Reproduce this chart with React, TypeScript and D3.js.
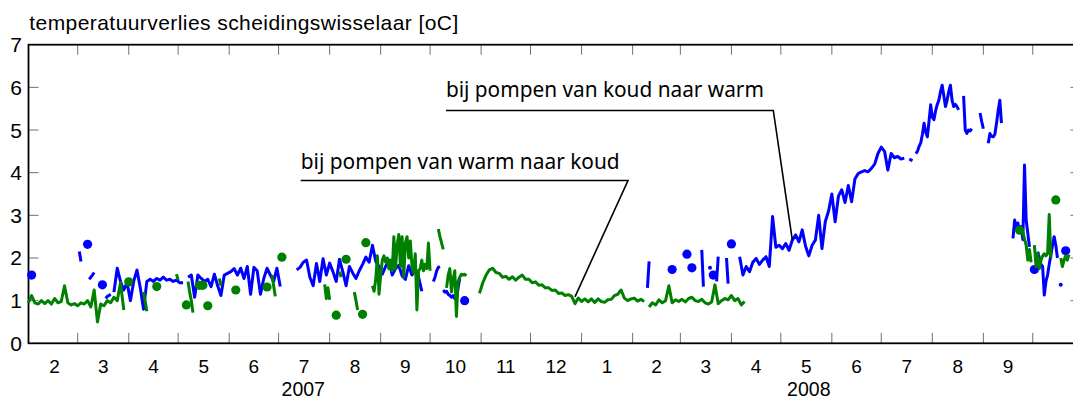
import React from "react";
import * as d3 from "d3";

// ---------- data ----------
const TITLE = "temperatuurverlies scheidingswisselaar [oC]";
const Y_TICKS = [0, 1, 2, 3, 4, 5, 6, 7];
const DOMAIN_START = "2007-01-30";
const DOMAIN_END = "2008-10-30";
const MONTH_LABEL_FIRST = "2007-02-01";
const MONTH_LABEL_LAST = "2008-09-01";
const YEAR_LABELS: [string, string][] = [
  ["2007-07-16", "2007"],
  ["2008-05-18", "2008"],
];

type Segment = { start: string; step: number; values: number[] };

// "bij pompen van koud naar warm"
const BLUE_SEGMENTS: Segment[] = [
  { start: "2007-03-02", step: 1, values: [2.15, 1.92] },
  { start: "2007-03-08", step: 1, values: [1.5, 1.55, 1.6, 1.66] },
  { start: "2007-03-18", step: 1, values: [1.05, 1.1, 1.12, 1.15] },
  { start: "2007-03-23", step: 2, values: [1.2, 1.76, 1.45, 1.25, 1.42, 1.0, 1.45, 1.72, 1.3, 0.8, 1.45, 1.5, 1.45, 1.52, 1.48, 1.55, 1.48, 1.5, 1.45, 1.48, 1.42, 1.42] },
  { start: "2007-05-07", step: 2, values: [1.55, 1.6, 1.08, 1.6, 1.52, 1.45, 1.5, 1.33, 1.62, 1.35, 1.12, 1.6, 1.64, 1.68, 1.75, 1.6, 1.76, 1.52, 1.8, 1.15, 1.78, 1.7, 1.15, 1.52, 1.76, 1.6, 1.45, 1.76, 1.33] },
  { start: "2007-07-12", step: 2, values: [1.72, 1.78, 1.9, 1.95, 1.55, 1.35, 1.87, 1.45, 1.98, 1.6, 1.88, 1.68, 1.45, 1.97, 1.68, 1.35, 1.8, 1.65, 1.52, 1.7, 1.85, 2.02, 1.9, 2.3, 1.92, 1.8, 1.62, 1.8, 1.95, 1.6, 1.75, 1.83, 1.58, 1.5, 1.82, 1.6, 1.72, 1.55, 1.22] },
  { start: "2007-10-03", step: 1, values: [1.45, 1.55, 1.7, 1.78, 1.8] },
  { start: "2007-10-09", step: 1, values: [1.25, 1.2, 1.22, 1.15, 1.12, 1.08, 1.12, 1.05, 1.02, 1.3, 1.52] },
  { start: "2008-02-10", step: 1, values: [1.3, 1.92] },
  { start: "2008-03-14", step: 1, values: [2.19, 1.33] },
  { start: "2008-03-23", step: 1, values: [1.45, 2.03] },
  { start: "2008-03-29", step: 1, values: [2.0, 1.4] },
  { start: "2008-04-06", step: 2, values: [2.03, 1.6, 1.8, 1.68, 1.9, 1.99, 1.85, 1.95, 2.03, 1.8, 2.97, 2.25, 2.3, 2.22, 2.34, 2.18, 2.42, 2.54, 2.38, 2.66, 2.28, 2.05, 2.3, 2.42, 3.0, 2.22, 2.85, 3.1, 3.5, 2.85, 3.45, 3.6, 3.3, 3.7, 3.32, 3.85, 3.98, 4.02, 4.05, 4.02, 4.1, 4.2, 4.45, 4.6, 4.5, 4.06, 4.45, 4.35, 4.38, 4.32, 4.34] },
  { start: "2008-07-18", step: 1, values: [4.32, 4.3, 4.28] },
  { start: "2008-07-22", step: 1, values: [4.45, 4.5, 4.62, 4.7, 4.9, 5.16, 4.95, 4.84, 5.2, 5.59, 5.3, 5.24, 5.45, 5.6, 5.7, 5.9, 6.05, 5.8, 5.55, 5.7, 5.9, 6.05, 5.7, 5.55, 5.6, 5.55, 5.47] },
  { start: "2008-08-20", step: 1, values: [5.8, 5.0, 4.92, 5.0, 4.98, 5.03] },
  { start: "2008-08-30", step: 1, values: [5.4, 5.2, 5.03] },
  { start: "2008-09-04", step: 1, values: [4.69, 4.92, 4.85, 4.84, 4.9, 5.16, 5.45, 5.7, 5.16] },
  { start: "2008-09-19", step: 1, values: [2.46, 2.89, 2.7, 2.82, 2.6, 2.74, 2.43, 4.18, 2.89, 2.58, 2.26] },
  { start: "2008-10-04", step: 1, values: [2.15, 2.0, 1.85, 1.8, 1.13, 1.45, 1.6, 1.85, 2.07, 2.3, 2.5, 2.3, 2.0] },
];
const BLUE_DOTS: [string, number][] = [
  ["2007-02-01", 1.6], ["2007-03-07", 2.32], ["2007-03-16", 1.37], ["2007-10-22", 1.0],
  ["2008-02-25", 1.73], ["2008-03-05", 2.09], ["2008-03-08", 1.77], ["2008-03-21", 1.6],
  ["2008-04-01", 2.33], ["2008-10-02", 1.73], ["2008-10-21", 2.17],
];
const BLUE_SMALL_DOTS: [string, number][] = [["2008-03-19", 1.77], ["2008-10-18", 1.37]];

// "bij pompen van warm naar koud"
const GREEN_SEGMENTS: Segment[] = [
  { start: "2007-01-30", step: 2, values: [0.95, 1.12, 0.95, 0.92, 1.0, 0.93, 1.0, 0.92, 1.05, 0.95, 0.98, 1.35, 0.95, 0.9, 0.93, 0.88, 0.95, 0.92, 1.0, 0.85, 1.25, 0.5, 0.92, 0.88, 1.0, 0.95, 1.08, 1.0, 1.42, 0.78] },
  { start: "2007-04-10", step: 2, values: [1.2, 0.75] },
  { start: "2007-04-30", step: 1, values: [1.62, 1.48] },
  { start: "2007-05-07", step: 1, values: [1.45, 1.2, 1.0, 0.72] },
  { start: "2007-05-26", step: 1, values: [1.52, 1.35] },
  { start: "2007-06-27", step: 1, values: [1.6, 1.35, 1.1] },
  { start: "2007-07-29", step: 1, values: [1.38, 1.05, 1.3, 1.02] },
  { start: "2007-08-07", step: 1, values: [1.68, 1.55] },
  { start: "2007-08-16", step: 1, values: [1.2, 1.0, 0.78] },
  { start: "2007-08-27", step: 1, values: [1.35, 1.22, 1.5, 2.05, 1.15, 1.6, 1.95, 2.05, 1.9, 2.0, 1.75, 1.95, 1.7, 2.5, 1.75, 2.3, 2.55, 1.8, 2.5, 1.55, 2.35, 2.5, 2.0, 2.4, 1.8, 1.65, 2.1, 0.78, 1.7, 1.75, 1.95, 1.7, 1.85, 1.75, 2.35, 1.7] },
  { start: "2007-10-06", step: 1, values: [2.68, 2.5, 2.35, 2.2] },
  { start: "2007-10-11", step: 1, values: [1.3, 1.6, 1.75, 1.2, 1.5, 1.7, 0.63, 1.45, 1.55, 1.62, 1.6, 1.62, 1.58] },
  { start: "2007-10-31", step: 2, values: [1.17, 1.42, 1.6, 1.72, 1.76, 1.66, 1.64, 1.55, 1.57, 1.5, 1.56, 1.48, 1.55, 1.6, 1.5, 1.5, 1.42, 1.44, 1.36, 1.37, 1.3, 1.3, 1.24, 1.25, 1.17, 1.18, 1.12, 1.14, 1.1, 0.93, 1.06, 0.98, 1.04, 0.97, 1.04, 0.96, 1.04, 0.98, 0.96, 1.02, 1.03, 1.12, 1.15, 1.25, 1.06, 1.0, 1.04, 1.06, 0.99, 1.03, 0.98] },
  { start: "2008-02-11", step: 2, values: [0.85, 0.95, 0.9, 1.02, 0.95, 1.0, 1.35, 0.95, 1.02, 0.98, 1.03, 0.97, 1.05, 1.08, 1.0, 0.98, 1.03, 0.95, 0.92, 0.97, 1.37, 0.93, 1.0, 1.05, 1.02, 1.12, 1.0, 1.05, 0.9, 0.98] },
  { start: "2008-09-23", step: 1, values: [2.65, 2.63, 2.6, 2.45, 2.3, 1.95, 2.2, 1.9] },
  { start: "2008-10-02", step: 1, values: [2.3, 1.8, 2.1, 1.75, 1.95, 2.05, 2.1, 2.05, 2.1, 3.02, 2.0] },
  { start: "2008-10-18", step: 1, values: [2.0, 1.8, 1.95, 2.05, 1.95, 2.08] },
];
const GREEN_DOTS: [string, number][] = [
  ["2007-04-01", 1.44], ["2007-04-18", 1.33], ["2007-05-06", 0.9], ["2007-05-14", 1.36],
  ["2007-05-16", 1.36], ["2007-05-19", 0.88], ["2007-06-05", 1.25], ["2007-06-24", 1.32],
  ["2007-07-03", 2.02], ["2007-08-05", 0.66], ["2007-08-11", 1.97], ["2007-08-21", 0.68],
  ["2007-08-23", 2.36], ["2008-09-23", 2.65], ["2008-10-15", 3.36],
];

const ANNOTATIONS = [
  { text: "bij pompen van warm naar koud", target: ["2007-12-28", 1.09] as [string, number] },
  { text: "bij pompen van koud naar warm", target: ["2008-05-08", 2.42] as [string, number] },
];

// ---------- layout ----------
const W = 1073;
const H = 401;
const PLOT = { left: 28.5, right: 1080.5, top: 44.7, bottom: 343.3 };
const ANN_LAYOUT = [
  { x: 300.7, baseline: 168.5, width: 319, lineY: 180.5, elbowX: 628 },
  { x: 445.9, baseline: 96.5, width: 318, lineY: 110.5, elbowX: 773.3 },
];
const BLUE = "#0000ff";
const GREEN = "#008000";
const FONT = "'Liberation Sans', Arial, sans-serif";

const parse = d3.utcParse("%Y-%m-%d");

export default function App() {
  const x = d3
    .scaleUtc()
    .domain([parse(DOMAIN_START)!, parse(DOMAIN_END)!])
    .range([28.3, PLOT.right]);
  const y = d3.scaleLinear().domain([0, 7]).range([PLOT.bottom, PLOT.top]);

  const line = d3
    .line<{ date: Date; value: number }>()
    .x((d) => x(d.date))
    .y((d) => y(d.value));

  const expand = (s: Segment) => {
    const st = parse(s.start)!;
    return s.values.map((v, i) => ({ date: d3.utcDay.offset(st, i * s.step), value: v }));
  };

  const d0 = parse(DOMAIN_START)!;
  const monthTicks = d3.utcMonth
    .range(d0, parse(DOMAIN_END)!)
    .filter((m) => x(m) > PLOT.left + 5);
  const labelMonths = d3.utcMonth.range(
    parse(MONTH_LABEL_FIRST)!,
    d3.utcMonth.offset(parse(MONTH_LABEL_LAST)!, 1)
  );

  const inner = Y_TICKS.filter((t) => t > 0 && t < 7);

  return (
    <svg
      width={W}
      height={H}
      style={{ position: "absolute", left: 0, top: 0, background: "#fff" }}
      fontFamily={FONT}
    >
      <rect x={0} y={0} width={W} height={H} fill="#fff" />
      {/* title */}
      <text x={29.3} y={30} fontSize={21} textLength={429} lengthAdjust="spacing" fill="#000">
        {TITLE}
      </text>

      {/* ticks */}
      <g stroke="#707070" strokeWidth={1}>
        {monthTicks.map((m, i) => (
          <g key={i}>
            <line x1={x(m)} x2={x(m)} y1={PLOT.bottom} y2={PLOT.bottom - 10.5} />
            <line x1={x(m)} x2={x(m)} y1={PLOT.top} y2={PLOT.top + 10} />
          </g>
        ))}
        {inner.map((t) => (
          <g key={t}>
            <line x1={PLOT.left} x2={PLOT.left + 10} y1={y(t)} y2={y(t)} />
            <line x1={PLOT.right} x2={PLOT.right - 10} y1={y(t)} y2={y(t)} />
          </g>
        ))}
      </g>

      {/* frame */}
      <rect
        x={PLOT.left}
        y={PLOT.top}
        width={PLOT.right - PLOT.left}
        height={PLOT.bottom - PLOT.top}
        fill="none"
        stroke="#000"
        strokeWidth={1.8}
      />

      {/* y labels */}
      {Y_TICKS.map((t) => (
        <text key={t} x={22} y={y(t) + 7.5} fontSize={21} textAnchor="end" fill="#000">
          {t}
        </text>
      ))}

      {/* month labels */}
      {labelMonths.map((m, i) => {
        const a = Math.max(x(m), x(d0));
        const b = x(d3.utcMonth.offset(m, 1));
        return (
          <text key={i} x={(a + b) / 2} y={373.3} fontSize={19} textAnchor="middle" fill="#000">
            {m.getUTCMonth() + 1}
          </text>
        );
      })}
      {YEAR_LABELS.map(([d, l]) => (
        <text key={l} x={x(parse(d)!)} y={395.5} fontSize={19.5} textAnchor="middle" fill="#000">
          {l}
        </text>
      ))}

      {/* series */}
      <g fill="none" strokeWidth={3} strokeLinejoin="round" strokeLinecap="butt">
        {BLUE_SEGMENTS.map((s, i) => (
          <path key={"b" + i} d={line(expand(s)) || ""} stroke={BLUE} />
        ))}
      </g>
      {BLUE_DOTS.map(([d, v], i) => (
        <circle key={"bd" + i} cx={x(parse(d)!)} cy={y(v)} r={4.6} fill={BLUE} />
      ))}
      {BLUE_SMALL_DOTS.map(([d, v], i) => (
        <circle key={"bs" + i} cx={x(parse(d)!)} cy={y(v)} r={2} fill={BLUE} />
      ))}
      <g fill="none" strokeWidth={3} strokeLinejoin="round" strokeLinecap="butt">
        {GREEN_SEGMENTS.map((s, i) => (
          <path key={"g" + i} d={line(expand(s)) || ""} stroke={GREEN} />
        ))}
      </g>
      {GREEN_DOTS.map(([d, v], i) => (
        <circle key={"gd" + i} cx={x(parse(d)!)} cy={y(v)} r={4.6} fill={GREEN} />
      ))}

      {/* annotations */}
      {ANNOTATIONS.map((a, i) => {
        const L = ANN_LAYOUT[i];
        const tx = x(parse(a.target[0])!);
        const ty = y(a.target[1]);
        return (
          <g key={"a" + i}>
            <text
              x={L.x}
              y={L.baseline}
              fontSize={22}
              fontFamily="'Noto Sans', 'DejaVu Sans', sans-serif"
              textLength={L.width}
              lengthAdjust="spacingAndGlyphs"
              fill="#000"
            >
              {a.text}
            </text>
            <polyline
              points={`${L.x},${L.lineY} ${L.elbowX},${L.lineY} ${tx},${ty}`}
              fill="none"
              stroke="#000"
              strokeWidth={1.6}
            />
          </g>
        );
      })}
    </svg>
  );
}
